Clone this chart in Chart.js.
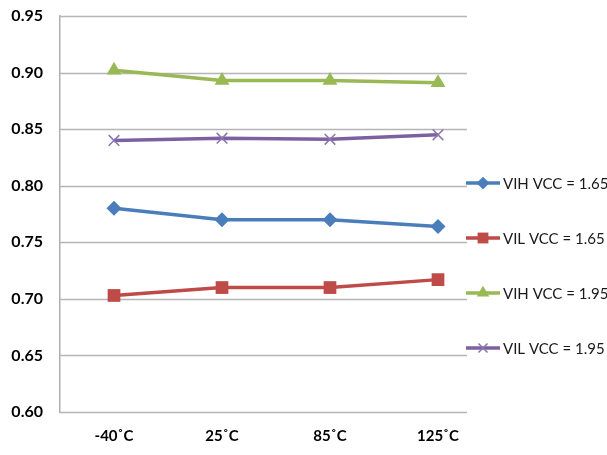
<!DOCTYPE html>
<html>
<head>
<meta charset="utf-8">
<script src="https://cdn.jsdelivr.net/npm/chart.js@4/dist/chart.umd.min.js"></script>
<style>
  html, body { margin: 0; padding: 0; background: #fff; }
  #wrap { width: 607px; height: 455px; }
</style>
</head>
<body>
<div id="wrap"><canvas id="chart" width="607" height="455"></canvas></div>
<script>
// data
const temps = ['-40\u02DAC', '25\u02DAC', '85\u02DAC', '125\u02DAC'];
const seriesNames = ['VIH VCC = 1.65', 'VIL VCC = 1.65', 'VIH VCC = 1.95', 'VIL VCC = 1.95'];
const vihLow = [0.780, 0.770, 0.770, 0.764];
const vilLow = [0.703, 0.710, 0.710, 0.717];
const vihHigh = [0.902, 0.893, 0.893, 0.891];
const vilHigh = [0.840, 0.842, 0.841, 0.845];
const yTicks = [0.60, 0.65, 0.70, 0.75, 0.80, 0.85, 0.90, 0.95];

const colors = ['#4A7EBB', '#BE4B48', '#98B954', '#7D60A0'];
const markers = ['rectRot', 'rect', 'triangle', 'crossRot'];
const markerSize = [7.5, 9, 8.5, 7.5];
const values = [vihLow, vilLow, vihHigh, vilHigh];

const gridRight = 467; // plot frame stops where the legend starts

const datasets = values.map((v, i) => ({
  label: seriesNames[i],
  data: v,
  borderColor: colors[i],
  backgroundColor: colors[i],
  borderWidth: 3.5,
  pointStyle: markers[i],
  pointRadius: markerSize[i],
  pointBorderWidth: i === 3 ? 1.5 : 0,
  pointBorderColor: i === 3 ? '#8a74b0' : colors[i],
  pointBackgroundColor: colors[i],
  tension: 0
}));

// horizontal grid + bottom axis, shorter than the category area
const frame = {
  id: 'frame',
  beforeDatasetsDraw(chart) {
    const ctx = chart.ctx;
    const y = chart.scales.y;
    const left = chart.chartArea.left;
    ctx.save();
    ctx.strokeStyle = '#b5b5b5';
    ctx.lineWidth = 1.5;
    yTicks.forEach(t => {
      const py = Math.round(y.getPixelForValue(t)) + 0.5;
      ctx.beginPath();
      ctx.moveTo(left, py);
      ctx.lineTo(gridRight, py);
      ctx.stroke();
    });
    ctx.restore();
  }
};

// legend drawn on the right like the original
const sideLegend = {
  id: 'sideLegend',
  afterDraw(chart) {
    const ctx = chart.ctx;
    ctx.save();
    chart.data.datasets.forEach((ds, i) => {
      const y = 183 + i * 55;
      ctx.strokeStyle = ds.borderColor;
      ctx.lineWidth = 3.5;
      ctx.beginPath();
      ctx.moveTo(466, y);
      ctx.lineTo(500, y);
      ctx.stroke();
      ctx.fillStyle = ds.backgroundColor;
      ctx.strokeStyle = ds.pointBorderColor;
      ctx.lineWidth = ds.pointBorderWidth || 0.01;
      Chart.helpers.drawPoint(ctx, { pointStyle: ds.pointStyle, radius: ds.pointRadius * 0.85, borderWidth: ds.pointBorderWidth }, 483, y);
      ctx.fillStyle = '#1a1a1a';
      ctx.font = '15px Lato';
      ctx.textBaseline = 'middle';
      ctx.fillText(ds.label, 503, y + 1);
    });
    ctx.restore();
  }
};

new Chart(document.getElementById('chart'), {
  type: 'line',
  data: { labels: temps, datasets: datasets },
  options: {
    responsive: false,
    animation: false,
    maintainAspectRatio: false,
    layout: { padding: { top: 16, right: 115, left: 0, bottom: 0 } },
    plugins: { legend: { display: false }, tooltip: { enabled: false } },
    scales: {
      x: {
        offset: true,
        grid: { display: false, drawTicks: false },
        border: { display: false },
        ticks: { color: '#000', padding: 15, font: { family: 'Lato', weight: 'bold', size: 15 } },
        afterFit(s) { s.height = 43; }
      },
      y: {
        min: 0.6,
        max: 0.95,
        afterBuildTicks(s) { s.ticks = yTicks.map(v => ({ value: v })); },
        grid: { display: false, drawTicks: false },
        border: { color: '#b0b0b0', width: 1.5 },
        ticks: {
          color: '#000',
          padding: 17,
          font: { family: 'Lato', weight: 'bold', size: 16 },
          callback: v => Number(v).toFixed(2)
        },
        afterFit(s) { s.width = 60; s.paddingTop = 0; s.paddingBottom = 0; }
      }
    }
  },
  plugins: [frame, sideLegend]
});
</script>
</body>
</html>
